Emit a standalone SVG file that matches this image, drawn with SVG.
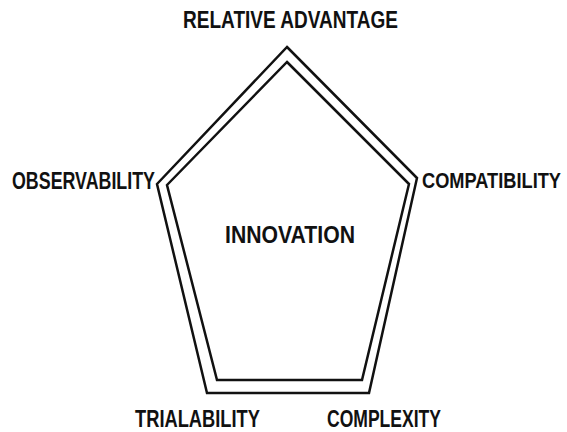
<svg xmlns="http://www.w3.org/2000/svg" width="567" height="432" viewBox="0 0 567 432">
<style>
.lbl{font-family:"Liberation Sans",Arial,sans-serif;font-weight:bold;font-size:23px;fill:#111}
.edge{fill:none;stroke:#111;stroke-width:2.5;stroke-linejoin:miter}
</style>
<rect width="567" height="432" fill="#fff"/>
<g id="connectors">
<polygon class="edge" points="287,47 417,178 369,393 207,393 157,184"/>
<polygon class="edge" points="287,62 409,184 362,380 217,380 167,185"/>
</g>
<g id="innovation"><text class="lbl" x="225" y="243" textLength="130" lengthAdjust="spacingAndGlyphs">INNOVATION</text></g>
<g id="relative-advantage"><text class="lbl" x="183" y="28" textLength="215" lengthAdjust="spacingAndGlyphs">RELATIVE ADVANTAGE</text></g>
<g id="compatibility"><text class="lbl" transform="translate(422,188) scale(1,1.25)" x="0" y="0" style="font-size:18px" textLength="139" lengthAdjust="spacingAndGlyphs">COMPATIBILITY</text></g>
<g id="observability"><text class="lbl" x="12" y="189" textLength="143" lengthAdjust="spacingAndGlyphs">OBSERVABILITY</text></g>
<g id="trialability"><text class="lbl" x="135" y="427" textLength="125" lengthAdjust="spacingAndGlyphs">TRIALABILITY</text></g>
<g id="complexity"><text class="lbl" x="327" y="427" textLength="114" lengthAdjust="spacingAndGlyphs">COMPLEXITY</text></g>
</svg>
